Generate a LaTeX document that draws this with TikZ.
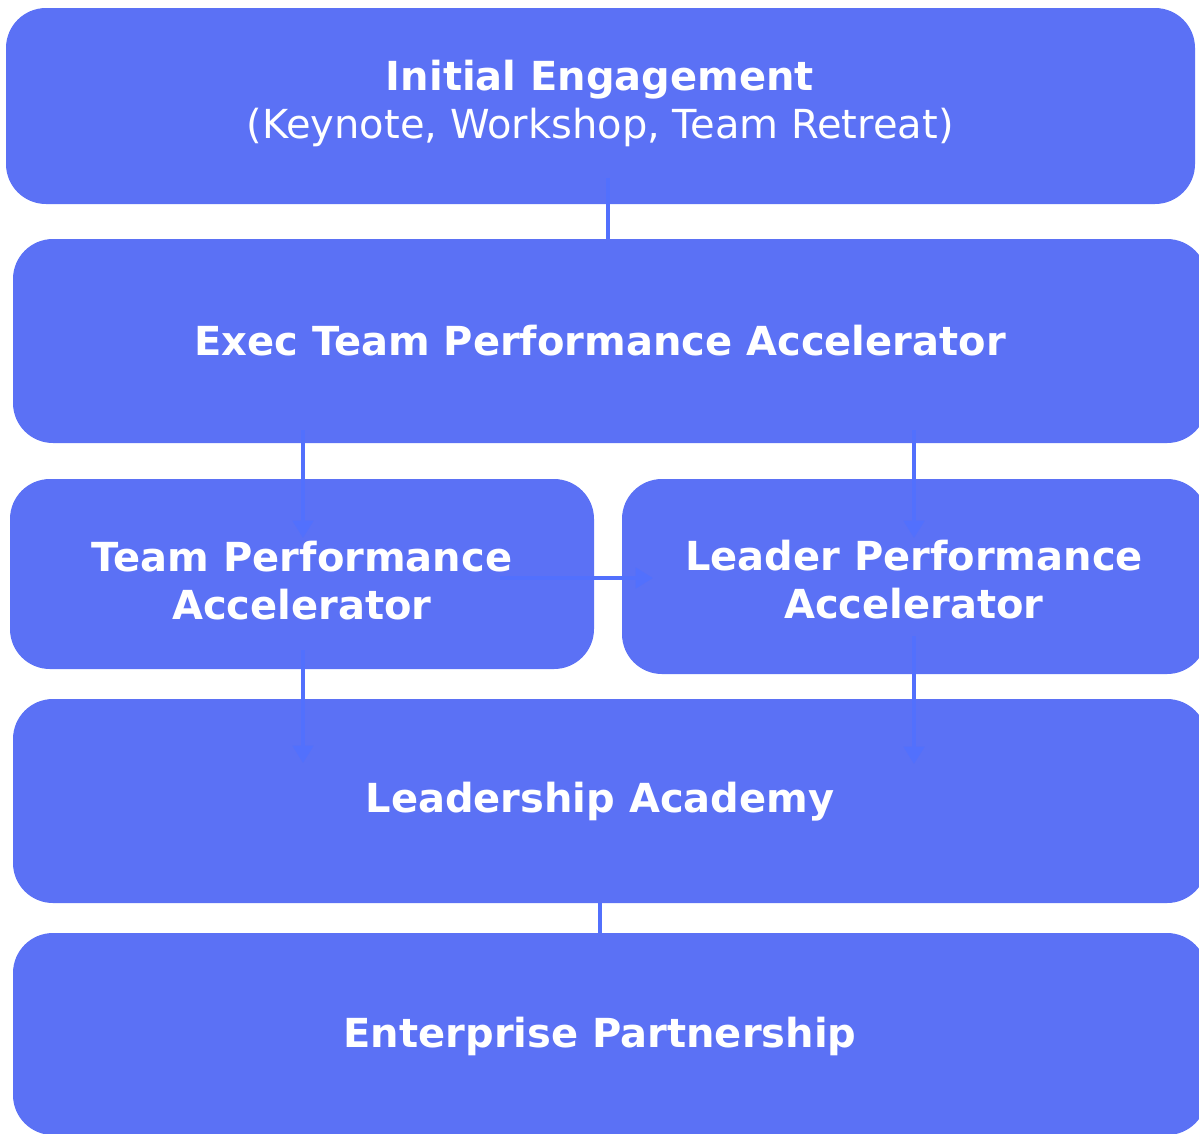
\documentclass[tikz,border=0pt]{standalone}
\usepackage{fontspec}
\setmainfont{DejaVu Sans}
\usetikzlibrary{arrows.meta,calc}
\definecolor{boxblue}{HTML}{5B71F5}
\definecolor{arrblue}{HTML}{5270FD}
\begin{document}
\begin{tikzpicture}[x=0.75pt,y=-0.75pt,
  blk/.style={fill=boxblue,draw=none,rounded corners=30pt,inner sep=0pt},
  txt/.style={text=white,align=center,font=\fontsize{30}{36}\selectfont\bfseries},
  link/.style={draw=arrblue,line width=3.4pt},
  arr/.style={link,-{Triangle[length=13pt,width=15pt]}}]
\useasboundingbox (0,0) rectangle (1199,1133);
\clip (0,0) rectangle (1199,1133);
% boxes
\path[blk] (6,8) rectangle (1195,204);
\node[inner sep=0pt] (init) at (600.5,106) {};
\path[blk] (13,239) rectangle (1207,443);
\node[inner sep=0pt] (exec) at (610,341) {};
\path[blk] (10,479) rectangle (594,669);
\node[inner sep=0pt] (team) at (302,574) {};
\path[blk] (622,479) rectangle (1207,674);
\node[inner sep=0pt] (lead) at (914,576) {};
\path[blk] (13,699) rectangle (1207,903);
\node[inner sep=0pt] (acad) at (610,801) {};
\path[blk] (13,933) rectangle (1207,1135);
\node[inner sep=0pt] (ent) at (610,1034) {};
% connector end points
\coordinate (a1) at ($(init)+(7.5,72)$);
\coordinate (a2) at ($(exec)+(-2,-102)$);
\coordinate (b1) at (303,430);
\coordinate (b2) at (303,538);
\coordinate (c1) at (914,430);
\coordinate (c2) at (914,538);
\coordinate (d1) at (500,578);
\coordinate (d2) at (653,578);
\coordinate (e1) at (303,650);
\coordinate (e2) at (303,763);
\coordinate (f1) at (914,636);
\coordinate (f2) at (914,764);
\coordinate (g1) at (600,903);
\coordinate (g2) at (600,933);
\draw[link] (a1) -- (a2);
\draw[arr] (b1) -- (b2);
\draw[arr] (c1) -- (c2);
\draw[arr] (d1) -- (d2);
\draw[arr] (e1) -- (e2);
\draw[arr] (f1) -- (f2);
\draw[link] (g1) -- (g2);
% texts
\node[txt] (tinit) at (600,103) {Initial Engagement\\{\mdseries (Keynote, Workshop, Team Retreat)}};
\node[txt] (texec) at (600,341) {Exec Team Performance Accelerator};
\node[txt] (tteam) at (302,581) {Team Performance\\Accelerator};
\node[txt] (tlead) at (914,580) {Leader Performance\\Accelerator};
\node[txt] (tacad) at (600,802) {Leadership Academy};
\node[txt] (tent) at (600,1036) {Enterprise Partnership};
\end{tikzpicture}
\end{document}
